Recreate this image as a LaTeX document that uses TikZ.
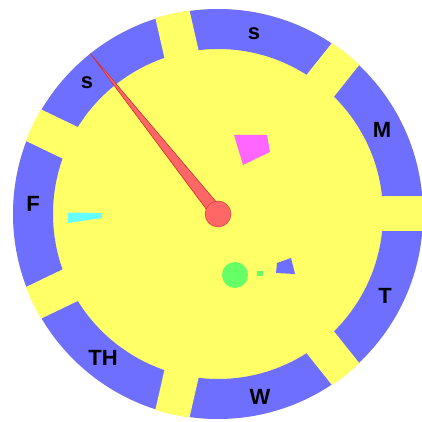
\documentclass[tikz,border=0pt]{standalone}
\usepackage{fontspec}
\setmainfont{Liberation Sans}
\definecolor{dialyellow}{RGB}{255,255,102}
\definecolor{segblue}{RGB}{111,111,255}
\definecolor{handred}{RGB}{255,102,102}
\definecolor{handedge}{RGB}{200,50,50}
\definecolor{magentashape}{RGB}{255,102,255}
\definecolor{cyanshape}{RGB}{102,255,255}
\definecolor{greenshape}{RGB}{102,255,102}
\tikzset{
  lbl/.style={font=\fontsize{22}{22}\bfseries\selectfont, inner sep=0pt, anchor=center},
  seg/.style={fill=segblue},
  gapband/.style={fill=dialyellow},
}
\begin{document}
\begin{tikzpicture}[x=1pt,y=1pt]
\useasboundingbox (-218,-208) rectangle (204,214);
\clip (-218,-208) rectangle (204,214);
% dial
\fill[dialyellow] (0,0) circle (205);
\fill[seg, even odd rule] (0,0) circle (205) (0,0) circle (165);
\begin{scope}
  \clip (0,0) circle (205.5);
  \foreach \k in {0,...,6} {
    \fill[gapband, rotate={\k*360/7}] (150,-17.5) rectangle (215,17.5);
  }
\end{scope}
% day labels
\node[lbl] (mon) at (164,84) {M};
\node[lbl] (tue) at (167,-82) {T};
\node[lbl] (wed) at (42,-183) {W};
\node[lbl] (thu) at (-115,-144) {TH};
\node[lbl] (fri) at (-185,10) {F};
\node[lbl] (sat) at (-131,131) {s};
\node[lbl] (sun) at (36,180) {s};
% small shapes
\fill[magentashape] (16,79) -- (49,79) -- (52,62) -- (25,49) -- cycle;
\fill[cyanshape] (-150,1.5) -- (-116,1) -- (-116,-4) -- (-150,-9) -- cycle;
\fill[greenshape] (17,-61) circle (13);
\fill[greenshape] (39,-57) rectangle (45,-62);
\fill[segblue] (59,-49) -- (73,-44) -- (77,-60) -- (58,-59) -- cycle;
% hand
\filldraw[fill=handred, draw=handedge, line width=0.6pt, line join=round]
  (38.5:6.5) -- (128.5:205) -- (218.5:6.5) -- cycle;
\node[circle, fill=handred, draw=handedge, line width=0.4pt, minimum size=26pt, inner sep=0pt] (hub) at (0,0) {};
\end{tikzpicture}
\end{document}
